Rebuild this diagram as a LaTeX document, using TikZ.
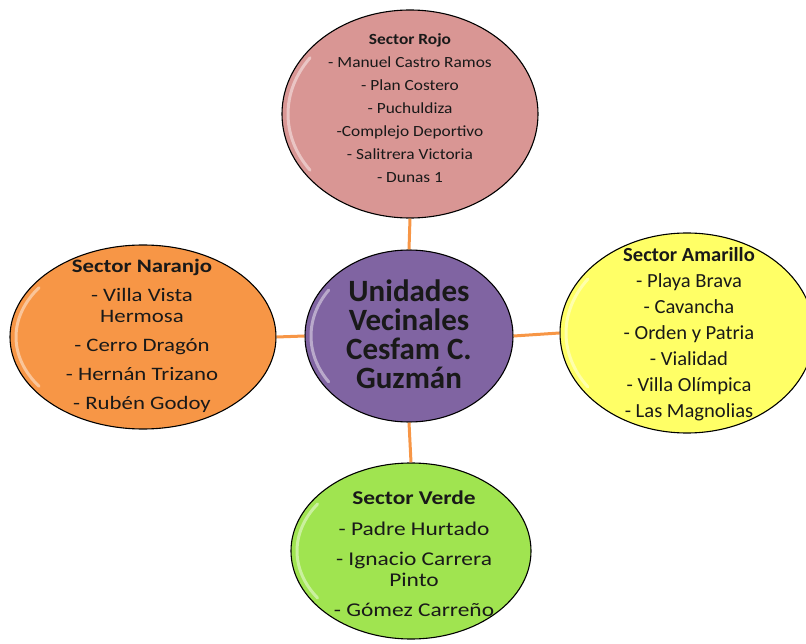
\documentclass[tikz,border=0pt]{standalone}
\usepackage{fontspec}
\setmainfont{Carlito}
\newfontfamily\fRojo[FakeStretch=1.12]{Carlito}
\newfontfamily\fNaranjo[FakeStretch=1.2]{Carlito}
\newfontfamily\fAmarillo[FakeStretch=1.03]{Carlito}
\newfontfamily\fVerde[FakeStretch=1.2]{Carlito}
\usetikzlibrary{shapes.geometric}
\definecolor{cRojo}{RGB}{217,150,148}
\definecolor{cNaranjo}{RGB}{247,150,70}
\definecolor{cAmarillo}{RGB}{255,255,102}
\definecolor{cVerde}{RGB}{160,228,80}
\definecolor{cMorado}{RGB}{128,100,162}
\definecolor{cLinea}{RGB}{247,150,70}
\tikzset{
  blob/.style={ellipse, draw=black, line width=1.1pt, inner sep=0pt},
  gloss/.style={draw=white, draw opacity=0.45, line width=3pt, line cap=round},
  txt/.style={align=center, inner sep=0pt, text=black!90},
  conn/.style={draw=cLinea, line width=3pt}
}
\begin{document}
\begin{tikzpicture}[x=1pt,y=-1pt]
\useasboundingbox (0,0) rectangle (806,644);
\begin{scope}
\clip (0,0) rectangle (806,644);
\node[blob, fill=cMorado, minimum width=208pt, minimum height=172pt] (centro) at (409,336) {};
\node[blob, fill=cRojo, minimum width=256pt, minimum height=208pt] (rojo) at (410,114) {};
\node[blob, fill=cNaranjo, minimum width=266pt, minimum height=184pt] (naranjo) at (143,337) {};
\node[blob, fill=cAmarillo, minimum width=254pt, minimum height=200pt] (amarillo) at (687,333) {};
\node[blob, fill=cVerde, minimum width=240pt, minimum height=176pt] (verde) at (411,551) {};
\draw[conn] (rojo.south) -- (centro.north);
\draw[conn] (naranjo.east) -- (centro.west);
\draw[conn] (centro.east) -- (amarillo.west);
\draw[conn] (centro.south) -- (verde.north);
% gloss highlights
\foreach \n/\rx/\ry in {centro/104/86, rojo/128/104, naranjo/133/92, amarillo/127/100, verde/120/88}{
  \draw[gloss] ([shift={(145:{\rx-6} and {\ry-6})}]\n.center) arc[start angle=145, end angle=215, x radius={\rx-6}, y radius={\ry-6}];
}
\end{scope}
% texts
\node[txt, font=\fontsize{31}{29}\selectfont\bfseries] (centrotxt) at (409,334) {Unidades\\Vecinales\\Cesfam C.\\Guzmán};
\node[txt, font=\fRojo\fontsize{15.5}{23}\selectfont] (rojotxt) at (410,108) {\textbf{Sector Rojo}\\- Manuel Castro Ramos\\- Plan Costero\\- Puchuldiza\\-Complejo Deportivo\\- Salitrera Victoria\\- Dunas 1};
\node[txt, font=\fNaranjo\fontsize{19}{21}\selectfont] (naranjotxt) at (142,336) {\textbf{Sector Naranjo}\\[8pt]- Villa Vista\\Hermosa\\[8pt]- Cerro Dragón\\[8pt]- Hernán Trizano\\[8pt]- Rubén Godoy};
\node[txt, font=\fAmarillo\fontsize{20}{26}\selectfont] (amarillotxt) at (689,334) {\textbf{Sector Amarillo}\\- Playa Brava\\- Cavancha\\- Orden y Patria\\- Vialidad\\- Villa Olímpica\\- Las Magnolias};
\node[txt, font=\fVerde\fontsize{19.5}{21}\selectfont] (verdetxt) at (414,554) {\textbf{Sector Verde}\\[10pt]- Padre Hurtado\\[9pt]- Ignacio Carrera\\Pinto\\[9pt]- Gómez Carreño};
\end{tikzpicture}
\end{document}
